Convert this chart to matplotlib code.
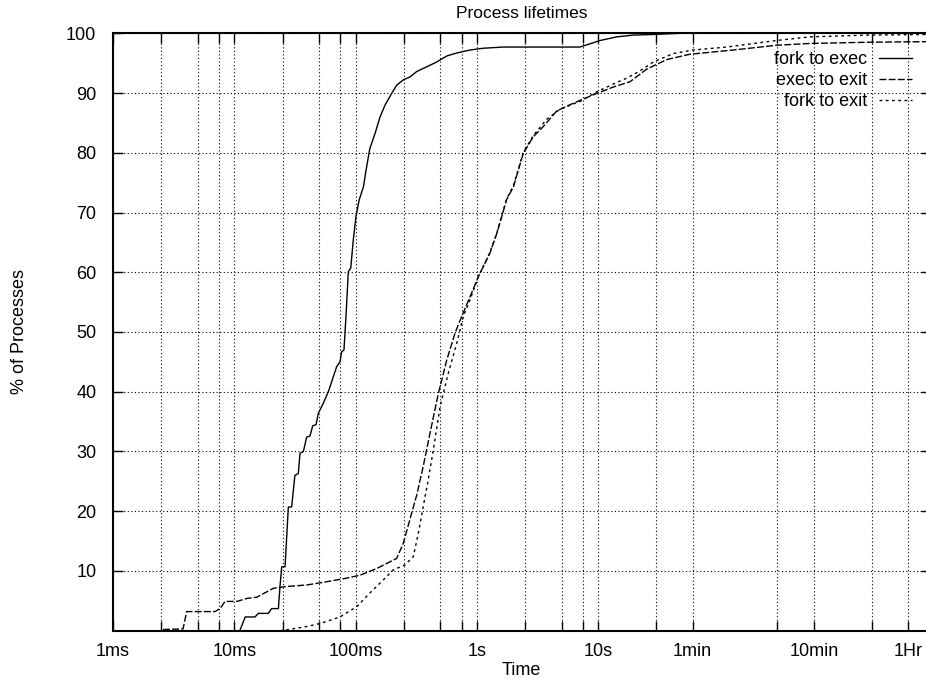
import numpy as np
import matplotlib
matplotlib.use("Agg")
import matplotlib.pyplot as plt

plt.rcParams['font.family'] = ['Liberation Sans', 'DejaVu Sans']
plt.rcParams['font.size'] = 13

# times in seconds, values in % of processes
fork_exec_t = [0.00807, 0.0101, 0.0111, 0.0123, 0.0148, 0.0158, 0.0191, 0.0203, 0.0231,
               0.0238, 0.0246, 0.0262, 0.0279, 0.0297, 0.0316, 0.0337, 0.0348, 0.0371,
               0.0395, 0.0421, 0.0443, 0.0472, 0.0493, 0.0542, 0.0596, 0.0655, 0.0698,
               0.0743, 0.0768, 0.0802, 0.0833, 0.0871, 0.0912, 0.0957, 0.1007, 0.107,
               0.116, 0.122, 0.131, 0.145, 0.159, 0.175, 0.199, 0.218, 0.247, 0.281,
               0.319, 0.386, 0.467, 0.564, 0.682, 0.878, 1.13, 1.65, 2.74, 7.08, 10.4,
               14.2, 19.5, 28.3, 47.2]
fork_exec_v = [0, 0, 0, 2.3, 2.3, 2.9, 2.9, 3.7, 3.7,
               7.4, 10.7, 10.7, 20.7, 20.7, 26.0, 26.3, 29.7, 30.0,
               32.4, 32.6, 34.3, 34.5, 36.4, 38.1, 40.0, 42.5, 44.2,
               45.0, 46.7, 47.0, 52.6, 60.1, 60.7, 65.4, 69.3, 72.1,
               74.3, 77.1, 80.7, 83.3, 86.0, 88.0, 90.0, 91.3, 92.2, 92.7,
               93.6, 94.4, 95.2, 96.2, 96.7, 97.2, 97.5, 97.7, 97.7, 97.7, 98.8,
               99.4, 99.7, 99.8, 100]

exec_exit_t = [0.00258, 0.00378, 0.00405, 0.00694, 0.00763, 0.00838, 0.0105, 0.0127,
               0.0153, 0.0185, 0.0210, 0.0270, 0.0395, 0.0578, 0.0845, 0.109, 0.149,
               0.218, 0.247, 0.290, 0.319, 0.361, 0.410, 0.481, 0.564, 0.660, 0.749,
               0.878, 1.03, 1.28, 1.46, 1.76, 2.0, 2.41, 2.92, 3.53, 4.55, 6.24, 9.12,
               13.3, 18.3, 25.1, 36.7, 57.1, 130, 296, 557, 1634, 5040]
exec_exit_v = [0.2, 0.3, 3.2, 3.2, 3.7, 4.9, 4.9, 5.4,
               5.6, 6.5, 7.1, 7.4, 7.65, 8.2, 8.8, 9.3, 10.4,
               12.1, 14.6, 19.7, 22.7, 27.5, 33.0, 39.7, 45.3, 49.8, 52.6,
               55.9, 59.3, 63.2, 66.5, 72.2, 74.3, 79.9, 82.7, 84.4, 87.0, 88.3, 89.7,
               91.0, 91.9, 94.0, 95.6, 96.5, 97.2, 98.0, 98.3, 98.5, 98.6]

fork_exit_t = [0.0238, 0.0262, 0.0395, 0.0509, 0.0743, 0.102, 0.131, 0.169, 0.205,
               0.255, 0.299, 0.329, 0.361, 0.395, 0.437, 0.497, 0.581, 0.682, 0.773,
               0.878, 1.03, 1.28, 1.46, 1.76, 2.0, 2.41, 2.92, 3.76, 4.84, 7.08, 9.72,
               13.3, 17.2, 22.1, 28.5, 41.4, 60.5, 115, 296, 557, 1634, 5040]
fork_exit_v = [0, 0.1, 0.7, 1.2, 2.3, 4.0, 6.3, 8.5, 10.2,
               11.0, 12.4, 16.3, 20.8, 25.0, 30.2, 37.5, 43.1, 48.1, 52.6,
               55.4, 59.3, 63.3, 66.6, 72.3, 74.5, 80.0, 82.9, 85.6, 87.3, 88.6, 90.2,
               91.5, 92.5, 93.7, 95.2, 96.6, 97.2, 97.7, 98.8, 99.4, 99.7, 99.8]

tick_pos = [0.001, 0.0025, 0.005, 0.0075, 0.01, 0.025, 0.05, 0.075, 0.1, 0.25, 0.5, 0.75,
            1, 2.5, 5, 7.5, 10, 30, 60, 300, 600, 1800, 3600]
tick_lab = ["1ms", "", "", "", "10ms", "", "", "", "100ms", "", "", "",
            "1s", "", "", "", "10s", "", "1min", "", "10min", "", "1Hr"]
ytick_pos = [10, 20, 30, 40, 50, 60, 70, 80, 90, 100]

W, H = 926, 679
fig = plt.figure(figsize=(W / 100, H / 100), dpi=100)
left, right, top, bottom = 113, 930.6, 33.3, 630.7
ax = fig.add_axes([left / W, 1 - bottom / H, (right - left) / W, (bottom - top) / H])

ax.plot(fork_exec_t, fork_exec_v, color='black', lw=1.0, label='fork to exec')
ax.plot(exec_exit_t, exec_exit_v, color='black', lw=1.0, dashes=(5, 1.6), label='exec to exit')
ax.plot(fork_exit_t, fork_exit_v, color='black', lw=1.0, dashes=(2, 2.5), label='fork to exit')

ax.set_xscale('log')
ax.set_xlim(0.001, 5500)
ax.set_ylim(0, 100)
ax.set_xticks(tick_pos)
ax.set_xticklabels(tick_lab)
ax.xaxis.set_minor_locator(matplotlib.ticker.NullLocator())
ax.set_yticks(ytick_pos)

ax.tick_params(axis='both', direction='in', length=7, width=1, top=True, right=True,
               colors='black')
ax.tick_params(axis='x', pad=9)
ax.tick_params(axis='y', pad=12)

ax.grid(True, color='black', linestyle=(0, (1, 2.2)), linewidth=0.8)
for s in ax.spines.values():
    s.set_linewidth(1.5)

ax.set_title('Process lifetimes', fontsize=12.5, pad=11)
ax.set_xlabel('Time')
ax.xaxis.set_label_coords(0.5, -0.052)
ax.set_ylabel('% of Processes')
ax.yaxis.set_label_coords(-0.104, 0.5)

ax.legend(loc='upper right', bbox_to_anchor=(912 / W, 1 - 51 / H),
          bbox_transform=fig.transFigure, frameon=False, markerfirst=False,
          handlelength=1.85, handletextpad=0.65, labelspacing=0.22, borderpad=0,
          borderaxespad=0)

fig.savefig('out.png', dpi=100)
